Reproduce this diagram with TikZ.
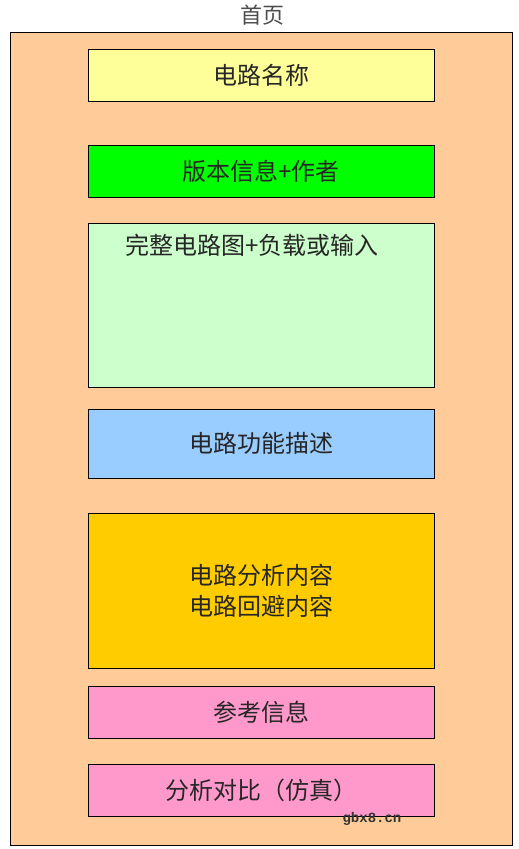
\documentclass[tikz,border=0pt]{standalone}
\usepackage{fontspec}
\newfontfamily\cjk{Noto Sans CJK SC}
\newfontfamily\monofont{Liberation Mono}
\definecolor{peach}{HTML}{FFCC99}
\definecolor{paleyellow}{HTML}{FFFF99}
\definecolor{brightgreen}{HTML}{00FF00}
\definecolor{palegreen}{HTML}{CCFFCC}
\definecolor{paleblue}{HTML}{99CCFF}
\definecolor{gold}{HTML}{FFCC00}
\definecolor{pink}{HTML}{FF99CC}
\begin{document}
\begin{tikzpicture}[
                x=1pt, y=-1pt,
                every node/.style={font=\cjk\fontsize{24}{31}\selectfont, text=black!85},
                block/.style={draw, line width=0.8pt, minimum width=346pt, inner sep=0pt},
            ]
            \useasboundingbox (0,0) rectangle (519,849);
            \node[font=\cjk\fontsize{22}{24}\selectfont, text=black!70] (title) at (262,15) {首页};
            \node[draw, line width=0.8pt, fill=peach, minimum width=502pt, minimum height=813pt, inner sep=0pt] (page) at (261,438.5) {};
            \node[block, fill=paleyellow, minimum height=52pt] (name) at (261,75) {电路名称};
            \node[block, fill=brightgreen, minimum height=52pt] (version) at (261,171) {版本信息+作者};
            \node[block, fill=palegreen, minimum height=164pt] (circuit) at (261,305) {};
            \node (circuittext) at (252,245) {完整电路图+负载或输入};
            \node[block, fill=paleblue, minimum height=69pt] (function) at (261,443.5) {电路功能描述};
            \node[block, fill=gold, minimum height=155pt, align=center] (analysis) at (261,590.5) {电路分析内容\\电路回避内容};
            \node[block, fill=pink, minimum height=52pt] (reference) at (261,712) {参考信息};
            \node[block, fill=pink, minimum height=52pt] (compare) at (261,790) {分析对比（仿真）};
            \node[font=\monofont\bfseries\fontsize{14}{16}\selectfont, text=black!80] (mark) at (372,819) {gbx8.cn};
            \end{tikzpicture}
\end{document}
